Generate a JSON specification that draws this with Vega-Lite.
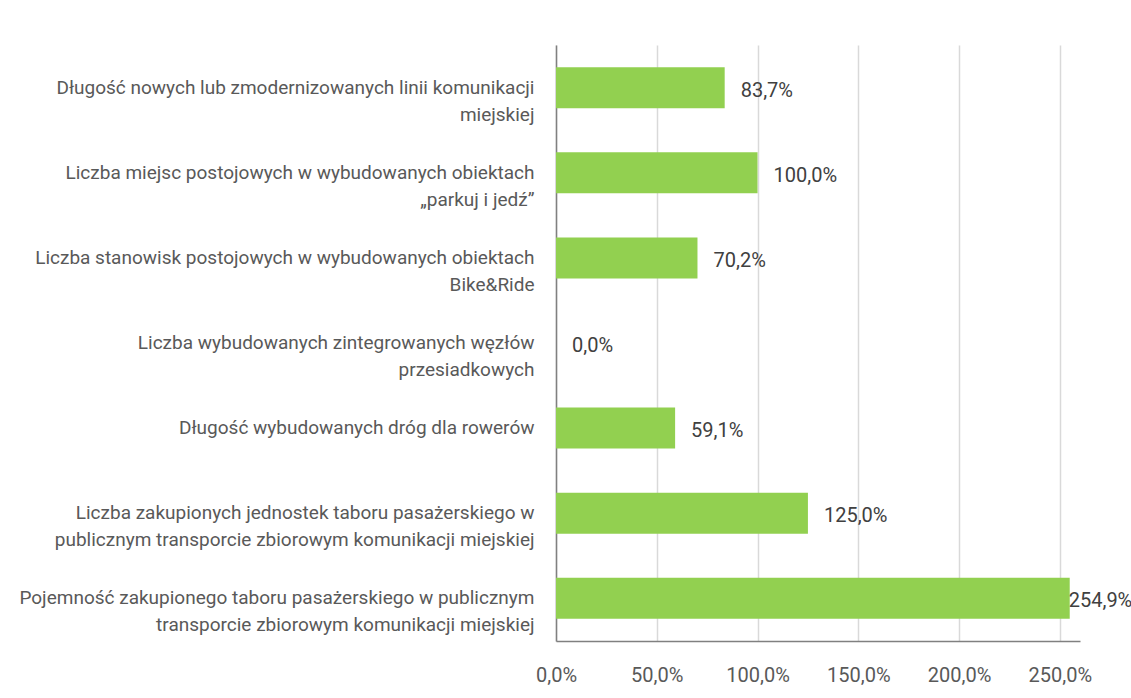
{
  "$schema": "https://vega.github.io/schema/vega-lite/v6.json",
  "width": 524,
  "height": 596,
  "autosize": {"type": "none"},
  "padding": {"left": 556, "top": 45, "right": 51, "bottom": 57},
  "background": "white",
  "config": {
    "locale": {"number": {"decimal": ",", "thousands": " ", "grouping": [3], "currency": ["", " zł"]}},
    "view": {"stroke": null},
    "font": "Roboto"
  },
  "data": {
    "values": [
      {"label": "Długość nowych lub zmodernizowanych linii komunikacji|miejskiej", "value": 0.837},
      {"label": "Liczba miejsc postojowych w wybudowanych obiektach|„parkuj i jedź”", "value": 1.0},
      {"label": "Liczba stanowisk postojowych w wybudowanych obiektach|Bike&Ride", "value": 0.702},
      {"label": "Liczba wybudowanych zintegrowanych węzłów|przesiadkowych", "value": 0.0},
      {"label": "Długość wybudowanych dróg dla rowerów", "value": 0.591},
      {"label": "Liczba zakupionych jednostek taboru pasażerskiego w|publicznym transporcie zbiorowym komunikacji miejskiej", "value": 1.25},
      {"label": "Pojemność zakupionego taboru pasażerskiego w publicznym|transporcie zbiorowym komunikacji miejskiej", "value": 2.549}
    ]
  },
  "encoding": {
    "y": {
      "field": "label",
      "type": "nominal",
      "sort": null,
      "scale": {"paddingInner": 0.518, "paddingOuter": 0.261},
      "axis": {
        "title": null,
        "ticks": false,
        "domain": true,
        "domainColor": "#808080",
        "domainWidth": 1.5,
        "labelExpr": "split(datum.label, '|')",
        "labelAlign": "right",
        "labelBaseline": "middle",
        "labelPadding": 22,
        "labelFontSize": 19,
        "labelLineHeight": 27,
        "labelColor": "#595959",
        "labelLimit": 1000
      }
    },
    "x": {
      "field": "value",
      "type": "quantitative",
      "scale": {"domain": [0, 2.6], "nice": false, "zero": true},
      "axis": {
        "title": null,
        "format": ".1%",
        "values": [0, 0.5, 1, 1.5, 2, 2.5],
        "grid": true,
        "gridColor": "#d9d9d9",
        "gridWidth": 1.5,
        "ticks": false,
        "domainColor": "#808080",
        "domainWidth": 1.5,
        "labelPadding": 24,
        "labelFontSize": 20,
        "labelColor": "#595959",
        "labelFlush": false
      }
    }
  },
  "layer": [
    {"mark": {"type": "bar", "color": "#92D050"}},
    {
      "transform": [{"filter": "datum.value < 2.5"}],
      "mark": {"type": "text", "align": "left", "baseline": "middle", "dx": 16, "dy": 3, "fontSize": 20, "color": "#404040"},
      "encoding": {"text": {"field": "value", "type": "quantitative", "format": ".1%"}}
    },
    {
      "transform": [{"filter": "datum.value >= 2.5"}],
      "mark": {"type": "text", "align": "left", "baseline": "middle", "dx": -1, "dy": 3, "fontSize": 20, "color": "#404040"},
      "encoding": {"text": {"field": "value", "type": "quantitative", "format": ".1%"}}
    }
  ]
}
